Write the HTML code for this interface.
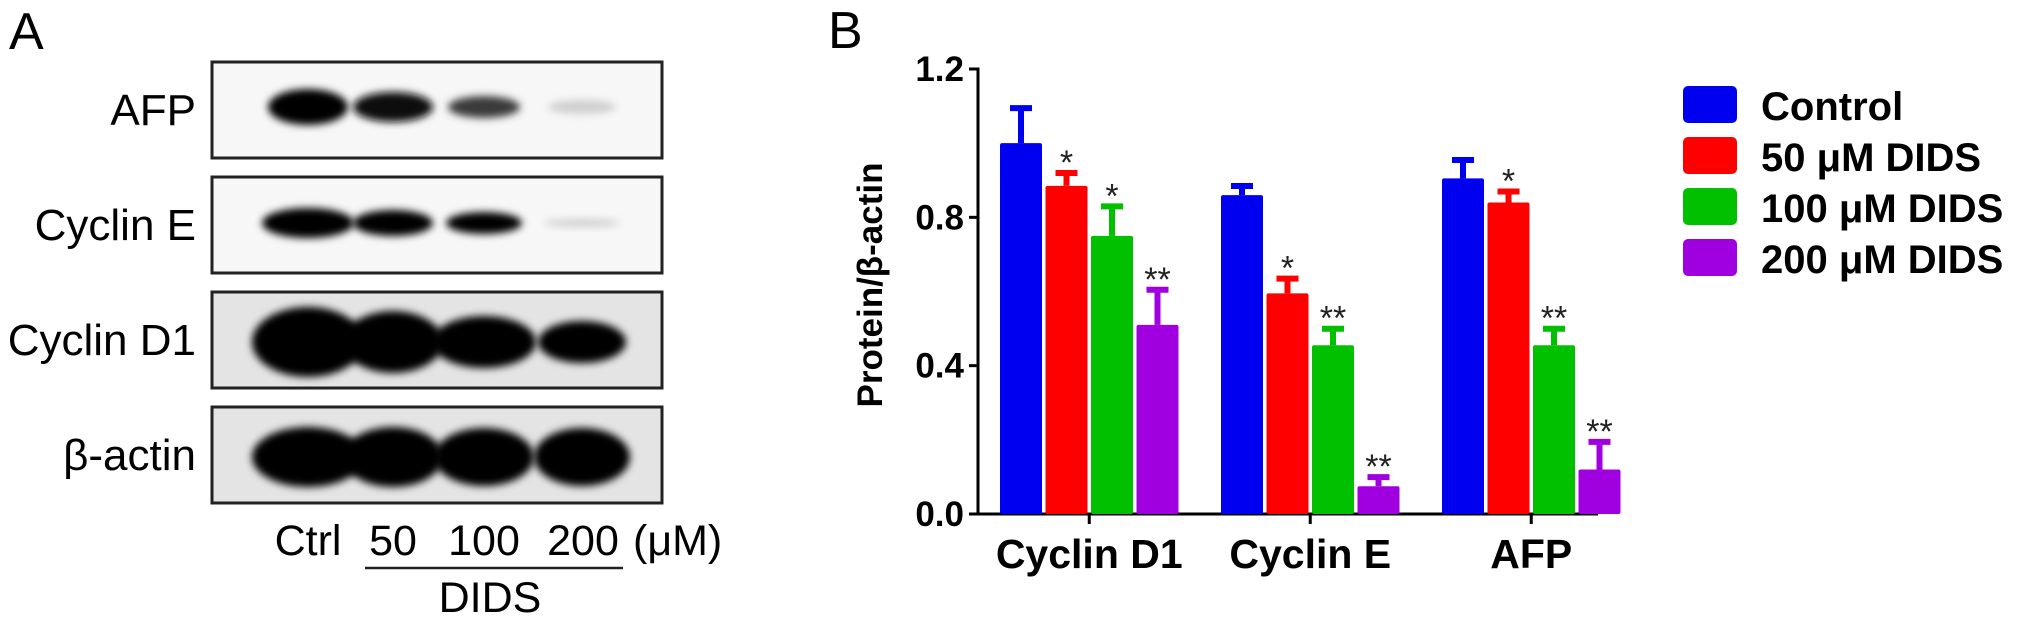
<!DOCTYPE html>
<html><head><meta charset="utf-8"><style>
body{margin:0;background:#fff;}
svg{display:block;font-family:"Liberation Sans",sans-serif;}
</style></head><body>
<svg width="2031" height="626" viewBox="0 0 2031 626">
<defs>
<filter id="bl2" x="-30%" y="-60%" width="160%" height="220%"><feGaussianBlur stdDeviation="4"/></filter>
</defs>
<g id="panelA">
<text x="9" y="49" font-size="52">A</text>
<g id="blots"></g>
<text x="308" y="555" font-size="43" text-anchor="middle">Ctrl</text>
<text x="393" y="555" font-size="43" text-anchor="middle">50</text>
<text x="484" y="555" font-size="43" text-anchor="middle">100</text>
<text x="583" y="555" font-size="43" text-anchor="middle">200</text>
<text x="633" y="555" font-size="43">(μM)</text>
<line x1="365" y1="568" x2="623" y2="568" stroke="#222" stroke-width="2.5"/>
<text x="490" y="612" font-size="43" text-anchor="middle">DIDS</text>
</g>
<g id="panelB">
<text x="828" y="48" font-size="52">B</text>
<g id="chart"></g>
</g>
</svg>
<script>
const NS="http://www.w3.org/2000/svg";
function mk(tag,attrs,parent,txt){const e=document.createElementNS(NS,tag);for(const k in attrs)e.setAttribute(k,attrs[k]);if(txt!==undefined)e.textContent=txt;parent.appendChild(e);return e;}
// ---- Blots ----
const blotNames=["AFP","Cyclin E","Cyclin D1","β-actin"];
const blotTops=[62,177,292,407];
const laneX=[308,393,484,582];
const bandIntensity=[[1,0.95,0.75,0.12],[1,1,1,0.12],[1,1,1,1],[1,1,1,1]];
const bandH=[[36,30,22,14],[30,26,22,8],[70,62,52,42],[60,60,58,58]];
const bandW=[[40,40,36,34],[46,40,38,38],[56,50,52,44],[56,50,50,48]];
const blots=document.getElementById('blots');
blotNames.forEach((n,i)=>{
  const y=blotTops[i];
  const bg=mk('rect',{x:212,y:y,width:450,height:96,fill:i>=2?'#e4e4e4':'#f7f7f7',stroke:'#222','stroke-width':3},blots);
  
  
  const lab=mk('text',{x:196,y:y+63,'font-size':44,'text-anchor':'end'},blots,n);
  
  
  laneX.forEach((lx,j)=>{
    const v=bandIntensity[i][j];
    const g=Math.round(235*(1-v));
    const b=mk('ellipse',{cx:lx,cy:y+(i===1?46:(i===0?45:50)),rx:bandW[i][j],ry:bandH[i][j]/2,fill:`rgb(${g},${g},${g})`,filter:'url(#bl2)'},blots);
    
    
  });
});
// ---- Chart ----
const categories=["Cyclin D1","Cyclin E","AFP"];
const seriesNames=["Control","50 μM DIDS","100 μM DIDS","200 μM DIDS"];
const colors=["#0000f0","#ff0000","#00c000","#a000e0"];
const valControl=[1.00,0.86,0.905];
const val50=[0.885,0.595,0.84];
const val100=[0.75,0.455,0.455];
const val200=[0.51,0.075,0.12];
const errControl=[0.10,0.03,0.055];
const err50=[0.04,0.045,0.035];
const err100=[0.085,0.05,0.05];
const err200=[0.10,0.03,0.08];
const stars50=["*","*","*"];
const stars100=["*","**","**"];
const stars200=["**","**","**"];
const yTicks=[0,0.4,0.8,1.2];
const yTickLabels=["0.0","0.4","0.8","1.2"];
const vals=[valControl,val50,val100,val200];
const errs=[errControl,err50,err100,err200];
const stars=[null,stars50,stars100,stars200];
const axX=978,y0=514,yTop=69,yMax=1.2;
const Y=v=>y0-(y0-yTop)*v/yMax;
const groupStart=1000,groupStep=221,barW=42,barStep=45.5;
const X=(c,s)=>groupStart+c*groupStep+s*barStep;
const ch=document.getElementById('chart');
const yAxis=mk('line',{x1:axX,y1:Y(1.2)-1.5,x2:axX,y2:y0,stroke:'#000','stroke-width':3},ch);


const xAxis=mk('line',{x1:axX-8,y1:y0,x2:1598,y2:y0,stroke:'#000','stroke-width':3},ch);


yTicks.forEach((t,i)=>{
  const tk=mk('line',{x1:axX-9,y1:Y(t),x2:axX,y2:Y(t),stroke:'#000','stroke-width':3},ch);
  
  
  const tl=mk('text',{x:axX-14,y:Y(t)+12,'font-size':35,'font-weight':'bold','text-anchor':'end'},ch,yTickLabels[i]);
  
  
});
const yt=mk('text',{x:0,y:0,'font-size':35,'font-weight':'bold','text-anchor':'middle',transform:'translate(882,285) rotate(-90)'},ch,'Protein/β-actin');


categories.forEach((c,ci)=>{
  const cx=X(ci,0)+(3*barStep+barW)/2;
  const xt=mk('line',{x1:cx,y1:y0,x2:cx,y2:y0+10,stroke:'#000','stroke-width':3},ch);
  
  
  const cl=mk('text',{x:cx,y:568,'font-size':41,'font-weight':'bold','text-anchor':'middle'},ch,c);
  
  
  for(let s=0;s<4;s++){
    const v=vals[s][ci],e=errs[s][ci],x=X(ci,s);
    const bc=x+barW/2;
    const el=mk('line',{x1:bc,y1:Y(v),x2:bc,y2:Y(v+e),stroke:colors[s],'stroke-width':6},ch);
    
    
    const ec=mk('line',{x1:bc-11,y1:Y(v+e)+2,x2:bc+11,y2:Y(v+e)+2,stroke:colors[s],'stroke-width':6},ch);
    
    
    const r=mk('rect',{x:x,y:Y(v),width:barW,height:y0-Y(v),fill:colors[s],rx:2},ch);
    
    
    if(stars[s]){
      const st=mk('text',{x:bc,y:Y(v+e)+21,'font-size':34,'text-anchor':'middle',fill:'#222',transform:`translate(0,-18)`},ch,stars[s][ci]);
      
      
    }
  }
});
seriesNames.forEach((n,i)=>{
  const y=86+i*51;
  const sw=mk('rect',{x:1683,y:y,width:54,height:37,rx:5,fill:colors[i]},ch);
  
  
  const lt=mk('text',{x:1761,y:y+34,'font-size':40,'font-weight':'bold'},ch,n);
  
  
});
</script>
</body></html>
